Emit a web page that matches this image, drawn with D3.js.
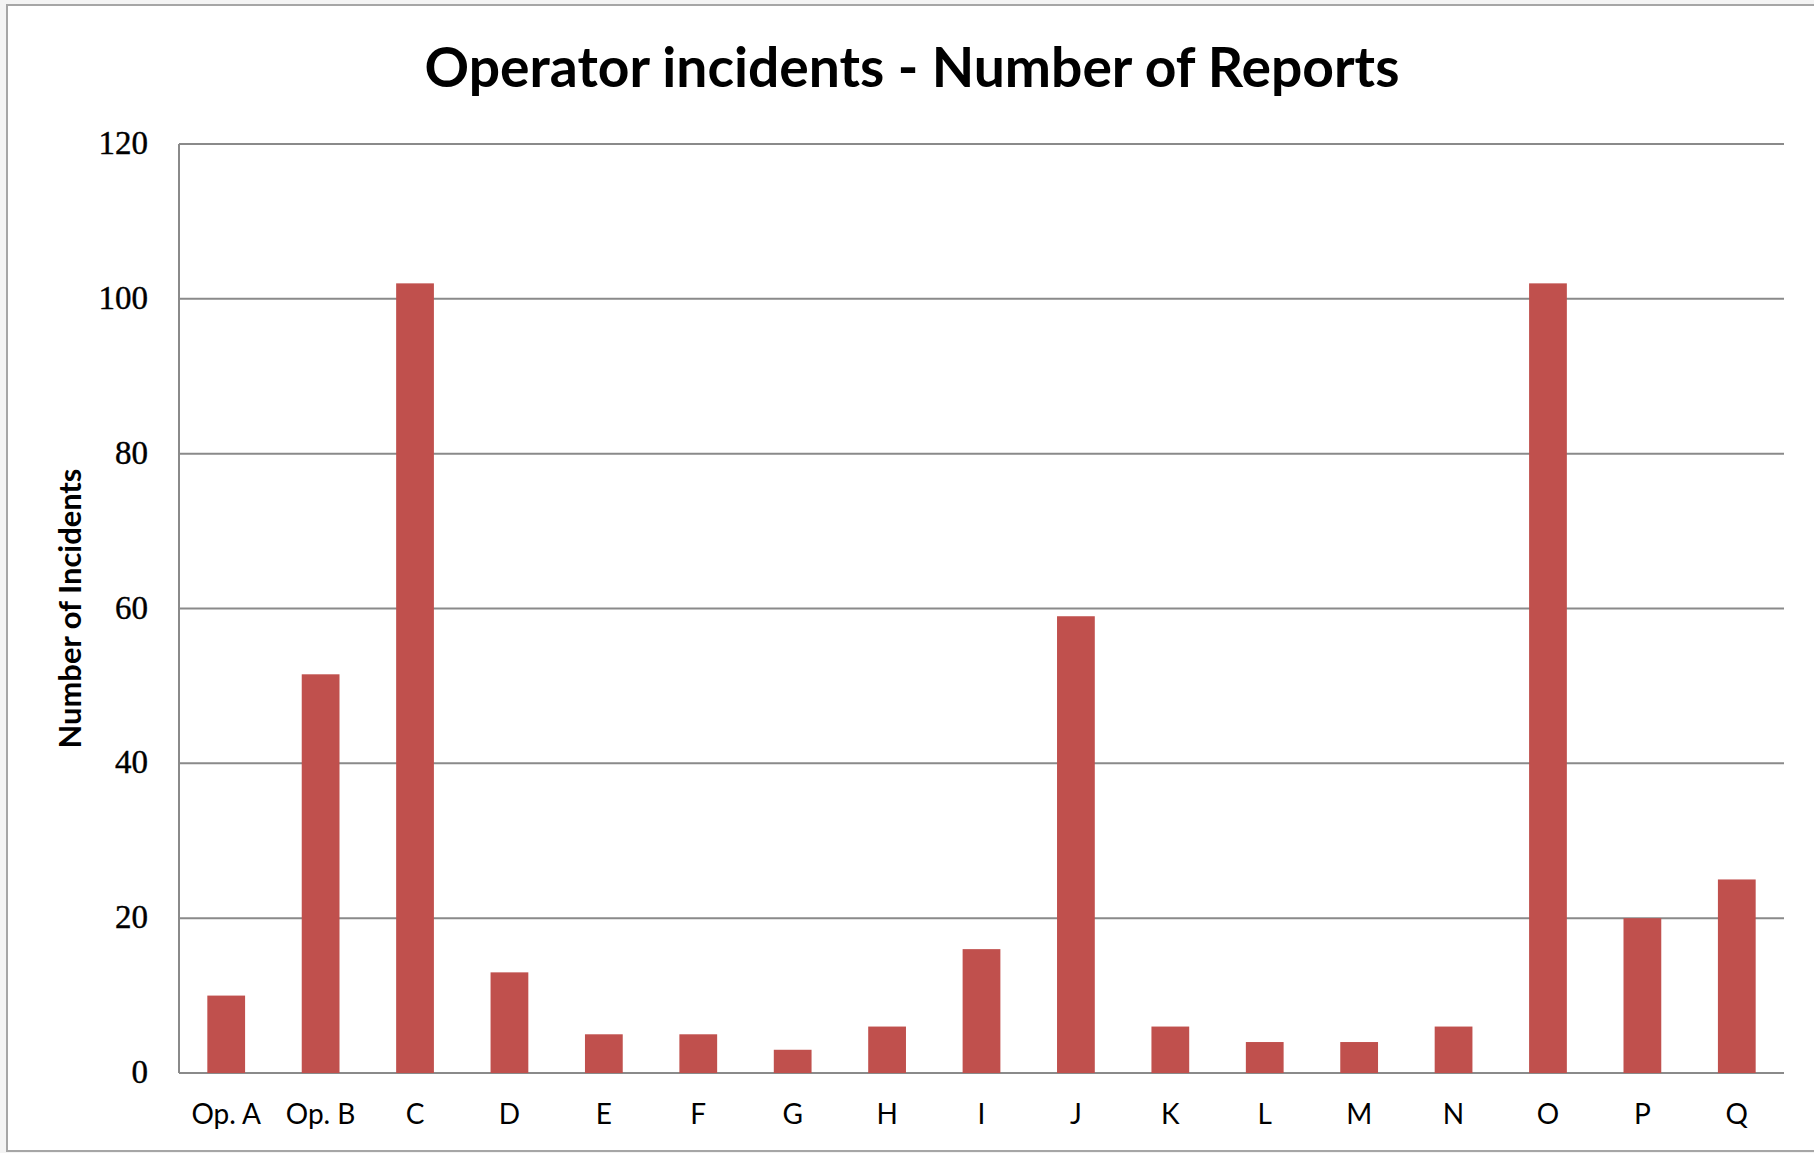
<!DOCTYPE html>
<html>
<head>
<meta charset="utf-8">
<script src="https://cdn.jsdelivr.net/npm/d3@7"></script>
<style>
  html, body { margin: 0; padding: 0; background: #ffffff; }
  svg { display: block; }
</style>
</head>
<body>
<svg id="chart" width="1814" height="1153"></svg>
<script>
// Incident counts per operator
const categories = ["Op. A", "Op. B", "C", "D", "E", "F", "G", "H", "I", "J", "K", "L", "M", "N", "O", "P", "Q"];
const incidents = [10, 51.5, 102, 13, 5, 5, 3, 6, 16, 59, 6, 4, 4, 6, 102, 20, 25];
const yTicks = [0, 20, 40, 60, 80, 100, 120];
const chartTitle = "Operator incidents - Number of Reports";
const yAxisTitle = "Number of Incidents";

const W = 1814, H = 1153;
const plot = { left: 179, right: 1784, top: 144, bottom: 1073 };
const barColor = "#C0504D";
const gridColor = "#8a8a8a";
const sansFont = "Lato, 'Open Sans', sans-serif";
const serifFont = "'Liberation Serif', 'DejaVu Serif', serif";

const svg = d3.select("#chart");

// chart frame
svg.append("rect")
  .attr("x", 0).attr("y", 0).attr("width", W).attr("height", H)
  .attr("fill", "#f4f4f4");
svg.append("rect")
  .attr("x", 7).attr("y", 5).attr("width", W + 20).attr("height", 1146)
  .attr("fill", "#ffffff")
  .attr("stroke", "#a6a6a6").attr("stroke-width", 2);

const x = d3.scaleBand()
  .domain(categories)
  .range([plot.left, plot.right])
  .paddingInner(0.6)
  .paddingOuter(0.3);

const y = d3.scaleLinear()
  .domain([0, 120])
  .range([plot.bottom, plot.top]);

// horizontal gridlines
svg.append("g")
  .selectAll("line")
  .data(yTicks)
  .join("line")
  .attr("x1", plot.left).attr("x2", plot.right)
  .attr("y1", d => y(d)).attr("y2", d => y(d))
  .attr("stroke", gridColor).attr("stroke-width", 2);

// vertical axis line
svg.append("line")
  .attr("x1", plot.left).attr("x2", plot.left)
  .attr("y1", y(120)).attr("y2", y(0))
  .attr("stroke", gridColor).attr("stroke-width", 2);

// bars
svg.append("g")
  .selectAll("rect")
  .data(categories.map((c, i) => ({ c, v: incidents[i] })))
  .join("rect")
  .attr("x", d => x(d.c))
  .attr("width", x.bandwidth())
  .attr("y", d => y(d.v))
  .attr("height", d => y(0) - y(d.v))
  .attr("fill", barColor);

// y tick labels
svg.append("g")
  .selectAll("text")
  .data(yTicks)
  .join("text")
  .attr("x", 148)
  .attr("y", d => y(d) + 10)
  .attr("text-anchor", "end")
  .attr("font-family", serifFont)
  .attr("font-size", 33)
  .attr("fill", "#000")
  .attr("stroke", "#000").attr("stroke-width", 0.4)
  .text(d => d);

// category labels
svg.append("g")
  .selectAll("text")
  .data(categories)
  .join("text")
  .attr("x", d => x(d) + x.bandwidth() / 2)
  .attr("y", 1124)
  .attr("text-anchor", "middle")
  .attr("font-family", sansFont)
  .attr("font-size", 28)
  .attr("fill", "#000")
  .text(d => d);

// scale a text's font size so it spans the given width
function fitWidth(sel, target) {
  const fs = parseFloat(sel.attr("font-size"));
  const w = sel.node().getComputedTextLength();
  if (w > 0) sel.attr("font-size", fs * target / w);
}

// title
const title = svg.append("text")
  .attr("x", 912)
  .attr("y", 87)
  .attr("text-anchor", "middle")
  .attr("font-family", sansFont)
  .attr("font-weight", "bold")
  .attr("font-size", 48)
  .attr("fill", "#000")
  .text(chartTitle);
fitWidth(title, 975);

// y axis title
const yt = svg.append("text")
  .attr("transform", `translate(81, ${(plot.top + plot.bottom) / 2}) rotate(-90)`)
  .attr("text-anchor", "middle")
  .attr("font-family", sansFont)
  .attr("font-weight", "bold")
  .attr("font-size", 28)
  .attr("fill", "#000")
  .text(yAxisTitle);
fitWidth(yt, 280);
</script>
</body>
</html>
